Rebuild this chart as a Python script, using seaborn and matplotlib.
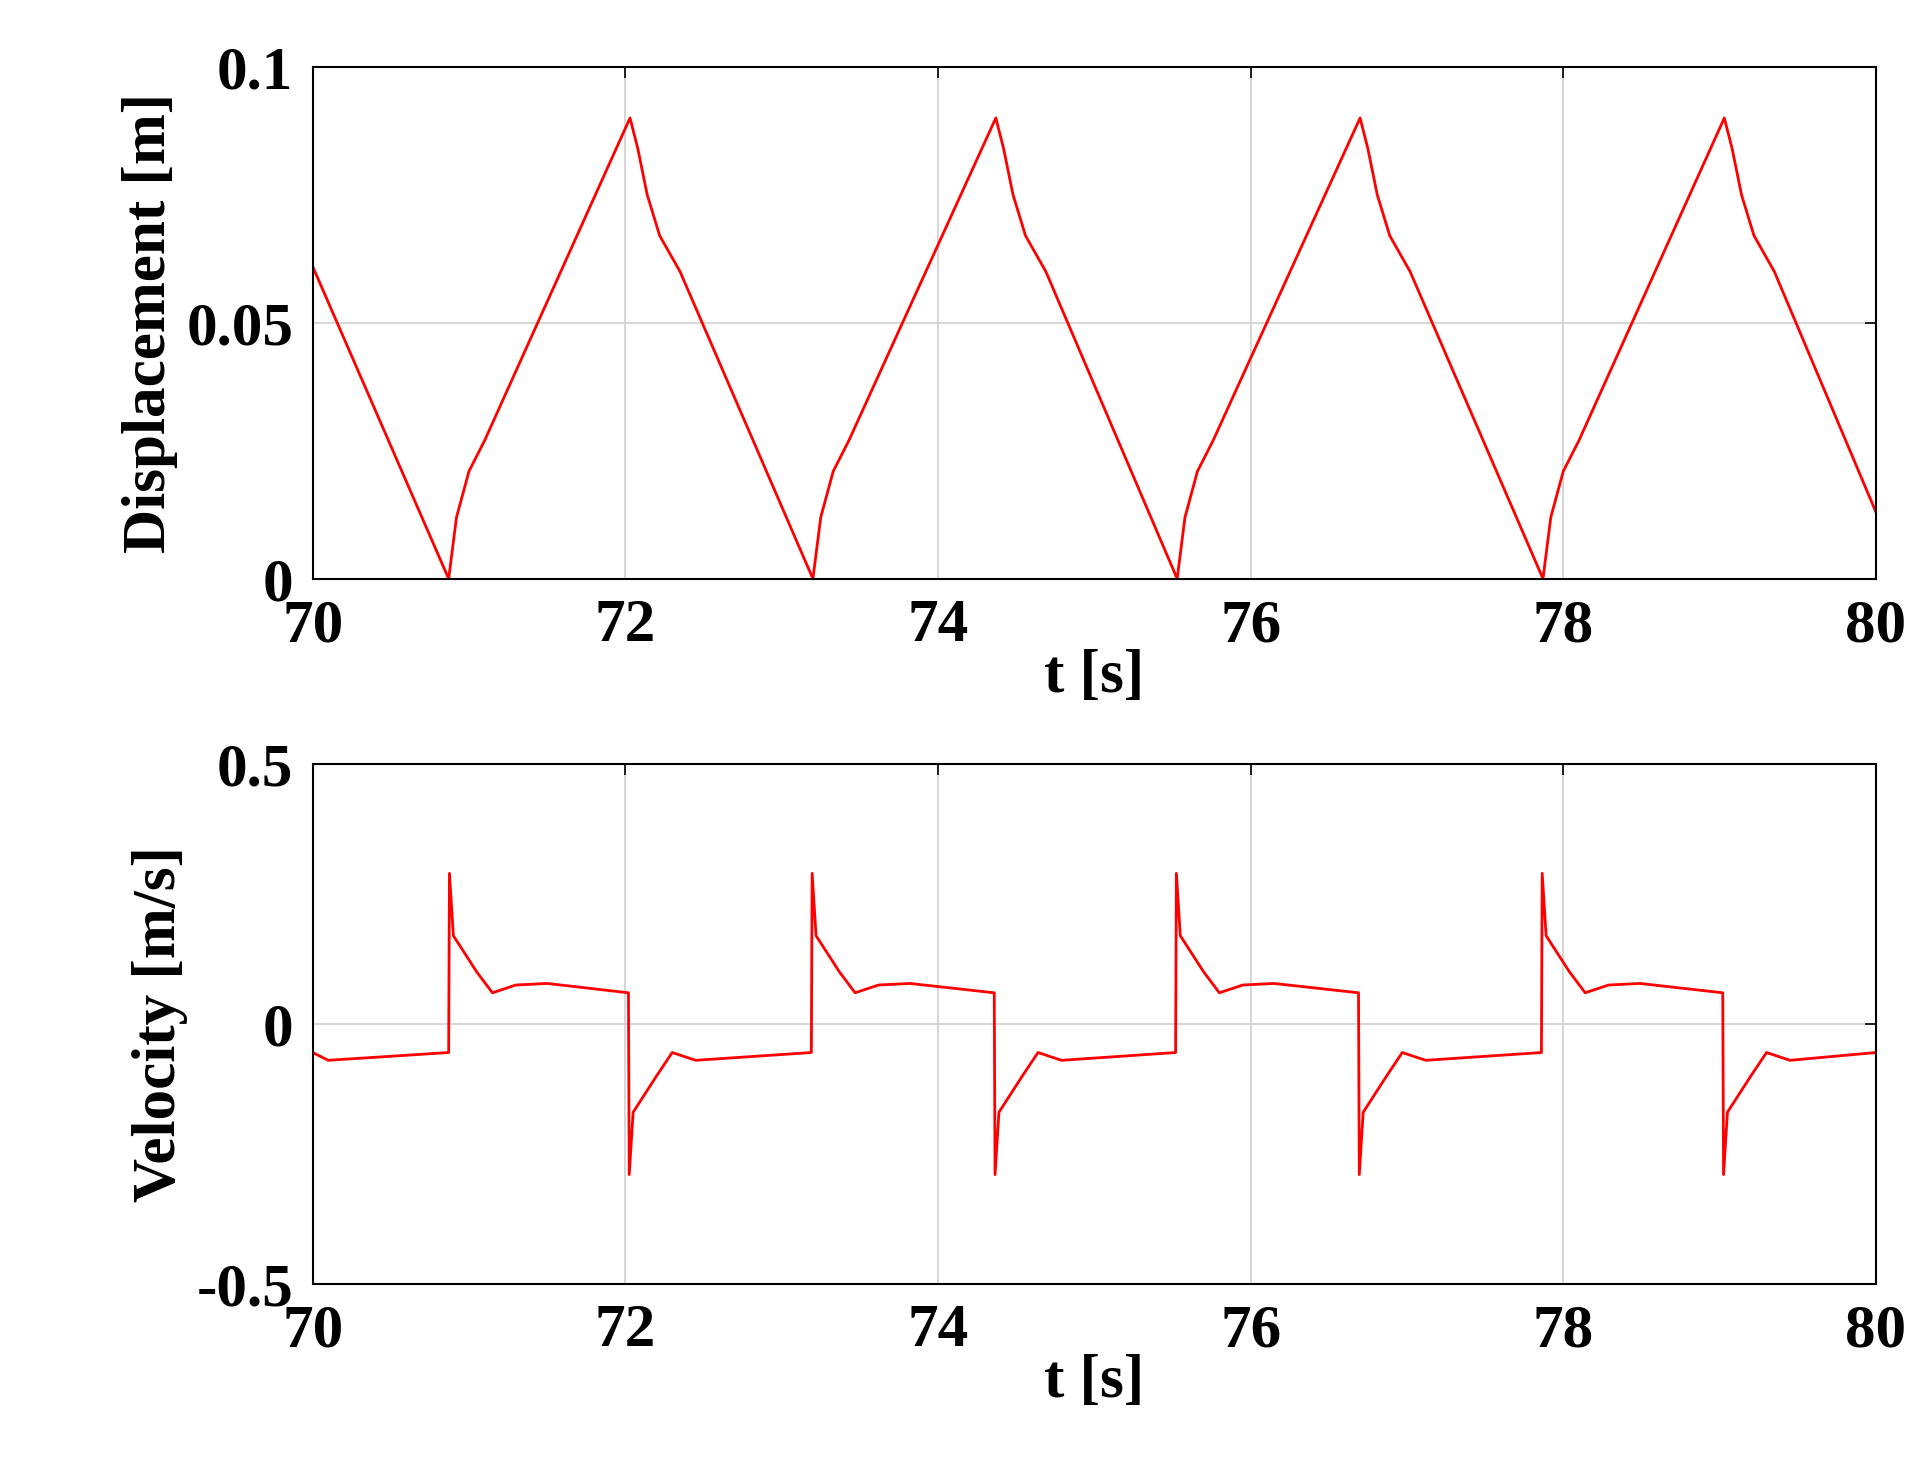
import matplotlib
matplotlib.use('Agg')
import matplotlib.pyplot as plt
import seaborn as sns
import pandas as pd

sns.set_style('white')
plt.rcParams['font.family'] = ['Liberation Serif', 'DejaVu Serif']
plt.rcParams['font.weight'] = 'bold'
plt.rcParams['text.color'] = 'black'
plt.rcParams['axes.labelcolor'] = 'black'
plt.rcParams['xtick.color'] = 'black'
plt.rcParams['ytick.color'] = 'black'

# displacement breakpoints
disp_t = [70.0, 70.87, 70.92, 71.0, 71.1, 72.03, 72.08, 72.14, 72.22, 72.35,
          73.2, 73.25, 73.33, 73.43, 74.37, 74.42, 74.48, 74.56, 74.69,
          75.53, 75.58, 75.66, 75.76, 76.7, 76.75, 76.81, 76.89, 77.02,
          77.87, 77.92, 78.0, 78.1, 79.03, 79.08, 79.14, 79.22, 79.35, 80.0]
disp_y = [0.061, 0.0, 0.012, 0.021, 0.027, 0.090, 0.084, 0.075, 0.067, 0.060,
          0.0, 0.012, 0.021, 0.027, 0.090, 0.084, 0.075, 0.067, 0.060,
          0.0, 0.012, 0.021, 0.027, 0.090, 0.084, 0.075, 0.067, 0.060,
          0.0, 0.012, 0.021, 0.027, 0.090, 0.084, 0.075, 0.067, 0.060, 0.013]

# velocity breakpoints
vel_t = [70.0, 70.1, 70.87, 70.875, 70.9, 71.05, 71.15, 71.3, 71.5, 72.02,
         72.025, 72.05, 72.2, 72.3, 72.45, 73.19,
         73.195, 73.22, 73.37, 73.47, 73.62, 73.82, 74.36,
         74.365, 74.39, 74.54, 74.64, 74.79, 75.52,
         75.525, 75.55, 75.7, 75.8, 75.95, 76.15, 76.69,
         76.695, 76.72, 76.87, 76.97, 77.12, 77.86,
         77.865, 77.89, 78.04, 78.14, 78.29, 78.49, 79.02,
         79.025, 79.05, 79.2, 79.3, 79.45, 80.0]
vel_y = [-0.055, -0.07, -0.055, 0.29, 0.17, 0.10, 0.06, 0.075, 0.078, 0.06,
         -0.29, -0.17, -0.10, -0.055, -0.07, -0.055,
         0.29, 0.17, 0.10, 0.06, 0.075, 0.078, 0.06,
         -0.29, -0.17, -0.10, -0.055, -0.07, -0.055,
         0.29, 0.17, 0.10, 0.06, 0.075, 0.078, 0.06,
         -0.29, -0.17, -0.10, -0.055, -0.07, -0.055,
         0.29, 0.17, 0.10, 0.06, 0.075, 0.078, 0.06,
         -0.29, -0.17, -0.10, -0.055, -0.07, -0.055]

fig = plt.figure(figsize=(19.3, 14.84), dpi=100)
ax1 = fig.add_axes([0.162, 0.61, 0.81, 0.345])
ax2 = fig.add_axes([0.162, 0.135, 0.81, 0.35])

df1 = pd.DataFrame({'t': disp_t, 'y': disp_y})
df2 = pd.DataFrame({'t': vel_t, 'y': vel_y})
sns.lineplot(data=df1, x='t', y='y', ax=ax1, color='red', lw=2)
sns.lineplot(data=df2, x='t', y='y', ax=ax2, color='red', lw=2)

fs = 44
for ax in (ax1, ax2):
    ax.set_xlim(70, 80)
    ax.set_xticks([70, 72, 74, 76, 78, 80])
    ax.grid(True, color='#d0d0d0', lw=1.2)
    ax.set_xlabel('t [s]', fontsize=fs, fontweight='bold', labelpad=-4)
    ax.tick_params(labelsize=fs, direction='in', length=8, width=1.2,
                   top=True, right=True, pad=14)
    for s in ax.spines.values():
        s.set_linewidth(1.5)
        s.set_color('black')

ax1.set_ylim(0, 0.1)
ax1.set_yticks([0, 0.05, 0.1])
ax1.set_yticklabels(['0', '0.05', '0.1'])
ax1.set_ylabel('Displacement [m]', fontsize=fs, fontweight='bold', labelpad=6)
ax2.set_ylim(-0.5, 0.5)
ax2.set_yticks([-0.5, 0, 0.5])
ax2.set_yticklabels(['-0.5', '0', '0.5'])
ax2.set_ylabel('Velocity [m/s]', fontsize=fs, fontweight='bold', labelpad=6)

fig.savefig('out.png', dpi=100)
